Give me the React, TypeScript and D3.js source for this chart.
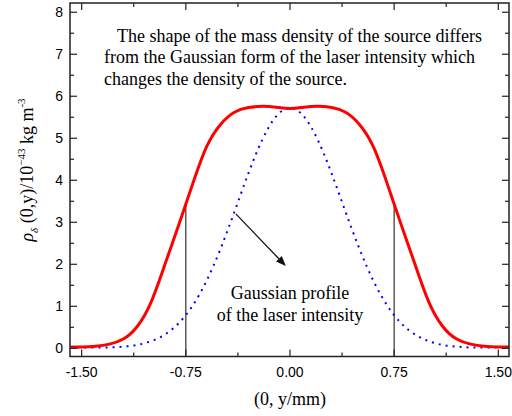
import React from "react";
import * as d3 from "d3";

const xValues = [-1.58, -1.5, -1.4, -1.3, -1.2, -1.1, -1.0, -0.9, -0.8, -0.7, -0.6, -0.5, -0.4, -0.3, -0.2, -0.1, 0, 0.1, 0.2, 0.3, 0.4, 0.5, 0.6, 0.7, 0.8, 0.9, 1.0, 1.1, 1.2, 1.3, 1.4, 1.5, 1.58];
const densityValues = [0.03, 0.03, 0.05, 0.1, 0.22, 0.52, 1.1, 2.0, 2.95, 3.92, 4.8, 5.33, 5.62, 5.73, 5.76, 5.74, 5.71, 5.74, 5.76, 5.73, 5.62, 5.33, 4.8, 3.92, 2.95, 2.0, 1.1, 0.52, 0.22, 0.1, 0.05, 0.03, 0.03];
const gaussianValues = [0.02, 0.02, 0.02, 0.02, 0.04, 0.08, 0.17, 0.33, 0.6, 1.02, 1.61, 2.37, 3.25, 4.16, 4.96, 5.52, 5.72, 5.52, 4.96, 4.16, 3.25, 2.37, 1.61, 1.02, 0.6, 0.33, 0.17, 0.08, 0.04, 0.02, 0.02, 0.02, 0.02];
const markerX = [-0.75, 0.75];
const markerY = [3.42, 3.42];
const xTicks = [-1.5, -0.75, 0, 0.75, 1.5];
const xTickLabels = ["-1.50", "-0.75", "0.00", "0.75", "1.50"];
const xMinorTicks = [-1.125, -0.375, 0.375, 1.125];
const yTicks = [0, 1, 2, 3, 4, 5, 6, 7, 8];
const yMinorTicks = [0.5, 1.5, 2.5, 3.5, 4.5, 5.5, 6.5, 7.5];
const noteLines = [
  "The shape of the mass density of the source differs",
  "from the Gaussian form of the laser intensity which",
  "changes the density of the source.",
];
const gaussLabel = ["Gaussian profile", "of the laser intensity"];
const arrowFrom = [-0.39, 3.2];
const arrowTo = [-0.03, 1.96];

export default function App() {
  const L = 70, R = 509, T = 3, B = 356.5;
  const x = d3.scaleLinear().domain([-1.584, 1.577]).range([L, R]);
  const y = d3.scaleLinear().domain([-0.195, 8.22]).range([B, T]);
  const line = d3.line<[number, number]>().x(d => x(d[0])).y(d => y(d[1])).curve(d3.curveNatural);
  const redPath = line(xValues.map((v, i) => [v, densityValues[i]]) as [number, number][]) || "";
  const bluePath = line(xValues.map((v, i) => [v, gaussianValues[i]]) as [number, number][]) || "";
  const serif = "'Liberation Serif', 'Times New Roman', serif";
  const sans = "'Liberation Sans', Arial, sans-serif";
  const ax = "#222";
  const ax1 = x(arrowFrom[0]), ay1 = y(arrowFrom[1]), ax2 = x(arrowTo[0]), ay2 = y(arrowTo[1]);
  const ang = Math.atan2(ay2 - ay1, ax2 - ax1);
  const hl = 10, hw = 4;
  const bx = ax2 - hl * Math.cos(ang), by = ay2 - hl * Math.sin(ang);
  const head = `M${ax2},${ay2}L${bx - hw * Math.sin(ang)},${by + hw * Math.cos(ang)}L${bx + hw * Math.sin(ang)},${by - hw * Math.cos(ang)}Z`;
  return (
    <svg width={512} height={416} style={{ position: "absolute", left: 0, top: 0, background: "#fff" }}>
      <defs>
        <clipPath id="plot"><rect x={L} y={T} width={R - L} height={B - T} /></clipPath>
      </defs>
      {markerX.map((m, i) => (
        <line key={i} x1={x(m)} x2={x(m)} y1={B} y2={y(markerY[i])} stroke="#333" strokeWidth={1.2} />
      ))}
      <g clipPath="url(#plot)">
        <path d={bluePath} fill="none" stroke="#0000ff" strokeWidth={2} strokeDasharray="2 5" />
        <path d={redPath} fill="none" stroke="#ff0000" strokeWidth={3} />
      </g>
      <rect x={L} y={T} width={R - L} height={B - T} fill="none" stroke={ax} strokeWidth={1.5} />
      {xTicks.map((t, i) => (
        <g key={"xt" + i}>
          <line x1={x(t)} x2={x(t)} y1={B} y2={B - 7} stroke={ax} strokeWidth={1.2} />
          <line x1={x(t)} x2={x(t)} y1={T} y2={T + 7} stroke={ax} strokeWidth={1.2} />
          <text x={x(t)} y={377} textAnchor="middle" fontFamily={sans} fontSize={14}>{xTickLabels[i]}</text>
        </g>
      ))}
      {xMinorTicks.map((t, i) => (
        <g key={"xm" + i}>
          <line x1={x(t)} x2={x(t)} y1={B} y2={B - 4} stroke={ax} strokeWidth={1.2} />
          <line x1={x(t)} x2={x(t)} y1={T} y2={T + 4} stroke={ax} strokeWidth={1.2} />
        </g>
      ))}
      {yTicks.map((t, i) => (
        <g key={"yt" + i}>
          <line x1={L} x2={L + 7} y1={y(t)} y2={y(t)} stroke={ax} strokeWidth={1.2} />
          <line x1={R} x2={R - 7} y1={y(t)} y2={y(t)} stroke={ax} strokeWidth={1.2} />
          <text x={63} y={y(t) + 5} textAnchor="end" fontFamily={sans} fontSize={14}>{t}</text>
        </g>
      ))}
      {yMinorTicks.map((t, i) => (
        <g key={"ym" + i}>
          <line x1={L} x2={L + 4} y1={y(t)} y2={y(t)} stroke={ax} strokeWidth={1.2} />
          <line x1={R} x2={R - 4} y1={y(t)} y2={y(t)} stroke={ax} strokeWidth={1.2} />
        </g>
      ))}
      {noteLines.map((s, i) => (
        <text key={"n" + i} x={i === 0 ? 117 : 104} y={41.5 + i * 21.7} fontFamily={serif} fontSize={18}>{s}</text>
      ))}
      {gaussLabel.map((s, i) => (
        <text key={"g" + i} x={290} y={299 + i * 21.5} textAnchor="middle" fontFamily={serif} fontSize={18}>{s}</text>
      ))}
      <line x1={ax1} y1={ay1} x2={bx} y2={by} stroke="#111" strokeWidth={1.3} />
      <path d={head} fill="#111" />
      <text x={290} y={405} textAnchor="middle" fontFamily={serif} fontSize={18}>(0, y/mm)</text>
      <text transform={`translate(33,${170}) rotate(-90)`} textAnchor="middle" fontFamily={serif} fontSize={18}>
        <tspan fontStyle="italic">ρ</tspan>
        <tspan fontStyle="italic" fontSize={11} dy={5}>δ</tspan>
        <tspan dy={-5}> (0,y)/10</tspan>
        <tspan fontSize={11} dy={-8}>−43</tspan>
        <tspan dy={8}> kg m</tspan>
        <tspan fontSize={11} dy={-8}>-3</tspan>
      </text>
    </svg>
  );
}
